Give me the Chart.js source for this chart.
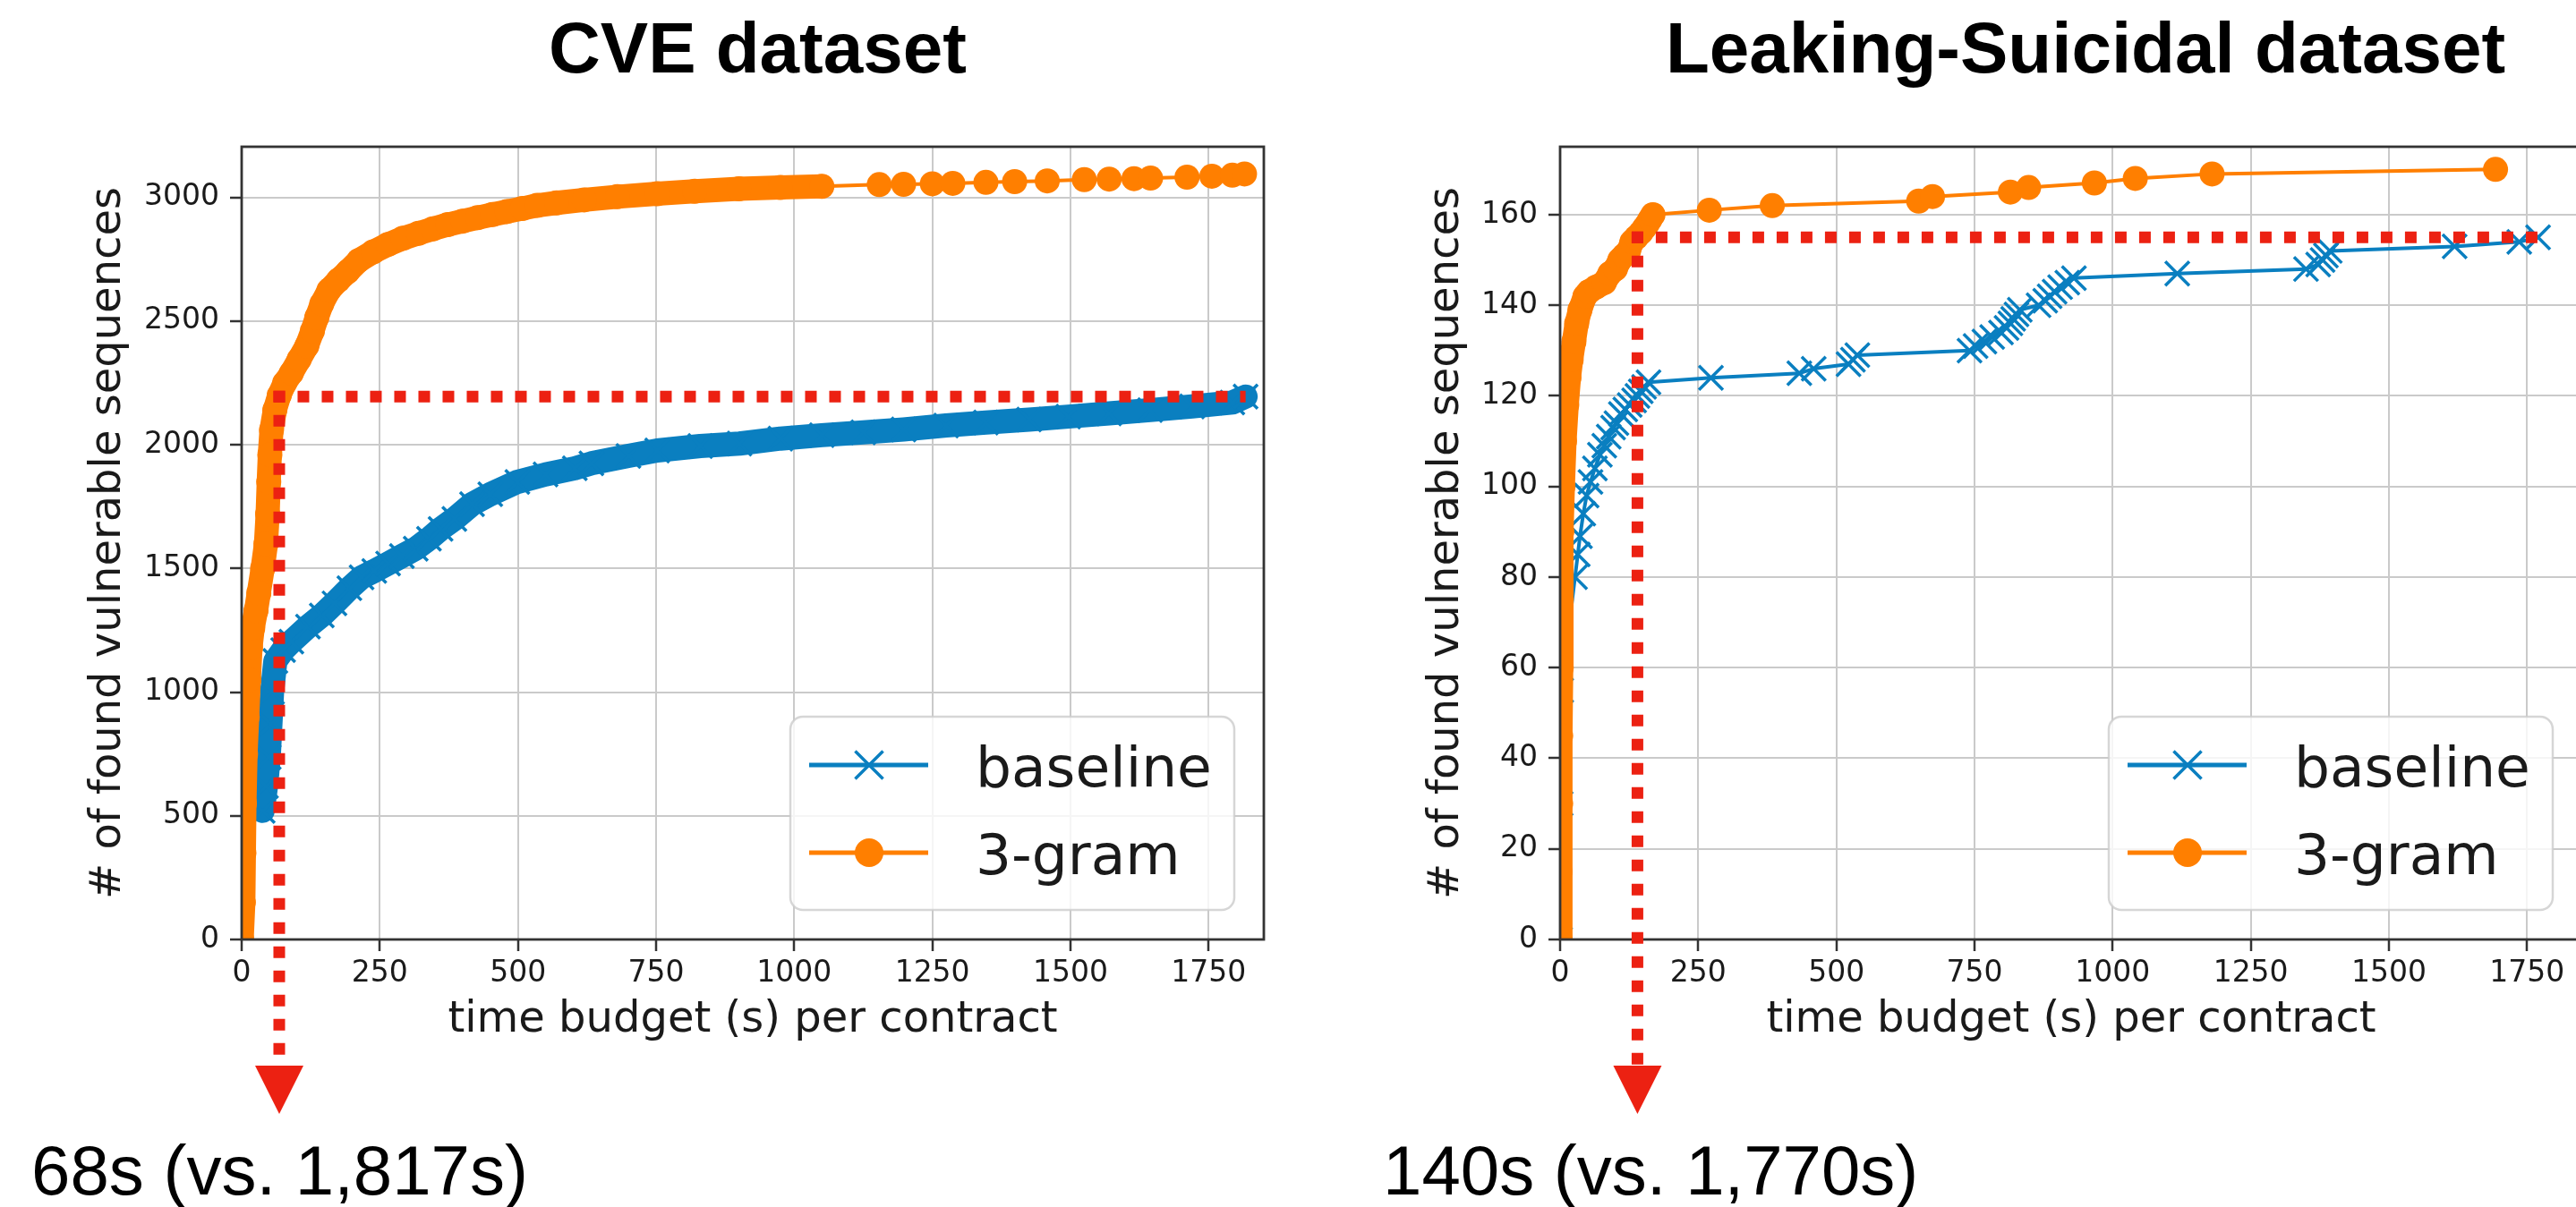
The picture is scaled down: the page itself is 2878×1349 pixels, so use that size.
<!DOCTYPE html>
<html>
<head>
<meta charset="utf-8">
<script src="https://cdn.jsdelivr.net/npm/chart.js@4.4.0/dist/chart.umd.min.js"></script>
<style>
  html, body { margin: 0; padding: 0; width: 2878px; height: 1349px; overflow: hidden; background: #fff; }
  canvas { position: absolute; top: 0; }
  #cveChart { left: 0; }
  #lsChart { left: 1440px; }
  .title { position: absolute; top: 14px; font: bold 80px "Liberation Sans", Arial, sans-serif; line-height: 1; color: #000; white-space: nowrap; }
  .note { position: absolute; top: 1269px; font: 78px "Liberation Sans", Arial, sans-serif; line-height: 1; color: #000; white-space: nowrap; }
</style>
</head>
<body>
<div class="title" style="left:613px">CVE dataset</div>
<div class="title" style="left:1861px">Leaking-Suicidal dataset</div>
<canvas id="cveChart" width="1440" height="1270"></canvas>
<canvas id="lsChart" width="1480" height="1270"></canvas>
<div class="note" style="left:35px">68s (vs. 1,817s)</div>
<div class="note" style="left:1545px">140s (vs. 1,770s)</div>
<script>
// ticks
const xTicks = [0, 250, 500, 750, 1000, 1250, 1500, 1750];
const cveYTicks = [0, 500, 1000, 1500, 2000, 2500, 3000];
const lsYTicks = [0, 20, 40, 60, 80, 100, 120, 140, 160];

// CVE dataset - baseline
const cveBaseTime = [38, 44, 49, 52, 55, 61, 75, 90, 120, 145,
  168, 195, 217, 240, 265, 290, 315, 339, 360, 385,
  417, 450, 499, 550, 603, 633, 700, 752, 830, 901,
  975, 1050, 1125, 1198, 1275, 1347, 1425, 1496, 1570, 1644,
  1720, 1793, 1817];
const cveBaseFound = [520, 620, 737, 870, 1001, 1126, 1170, 1204, 1265, 1310,
  1359, 1420, 1464, 1490, 1520, 1550, 1580, 1620, 1660, 1700,
  1760, 1800, 1850, 1880, 1905, 1925, 1955, 1977, 1995, 2005,
  2025, 2039, 2050, 2062, 2078, 2090, 2102, 2114, 2127, 2140,
  2155, 2171, 2195];

// CVE dataset - 3-gram
const cveGramTime = [0, 3, 4, 5, 7, 10, 13, 16, 20, 26,
  31, 38, 44, 47, 49, 51, 54, 60, 68, 78,
  90, 104, 118, 128, 136, 145, 158, 175, 192, 212,
  238, 265, 292, 320, 346, 373, 400, 427, 454, 480,
  508, 535, 570, 620, 680, 752, 820, 900, 975, 1050,
  1154, 1198, 1250, 1287, 1347, 1399, 1458, 1525, 1570, 1615,
  1645, 1711, 1756, 1793, 1815];
const cveGramFound = [0, 150, 350, 550, 750, 900, 1050, 1180, 1260, 1330,
  1400, 1500, 1600, 1720, 1850, 1960, 2060, 2140, 2200, 2250,
  2290, 2345, 2400, 2460, 2515, 2570, 2625, 2665, 2700, 2745,
  2780, 2810, 2835, 2855, 2873, 2890, 2904, 2918, 2931, 2943,
  2955, 2968, 2978, 2990, 3003, 3015, 3025, 3035, 3040, 3045,
  3052, 3053, 3055, 3057, 3061, 3064, 3067, 3072, 3074, 3076,
  3078, 3082, 3086, 3090, 3095];

// Leaking-Suicidal dataset - baseline
const lsBaseTime = [0, 1, 2, 27, 32,
  36, 42, 48, 55, 63, 72, 80, 88, 96, 102,
  110, 118, 126, 134, 140, 146, 152, 160, 273, 433,
  459, 522, 530, 538, 741, 752, 768, 782, 798, 808,
  815, 820, 826, 832, 866, 878, 886, 895, 905, 918,
  930, 1117, 1350, 1372, 1380, 1386, 1393, 1619, 1736, 1770];
const lsBaseFound = [0, 30, 55, 80, 85,
  89, 94, 98, 101, 104, 107, 109, 111, 113, 114,
  116, 117, 118, 119, 120, 121, 122, 123, 124, 125,
  126, 127, 128, 129, 130, 131, 132, 133, 134, 135,
  136, 137, 138, 139, 140, 141, 142, 143, 144, 145,
  146, 147, 148, 149, 150, 151, 152, 153, 154, 155];

// Leaking-Suicidal dataset - 3-gram
const lsGramTime = [0, 0, 1, 1, 2, 2, 3, 5, 8, 12,
  16, 20, 25, 30, 36, 45, 52, 65, 80, 90,
  100, 108, 116, 124, 130, 138, 146, 152, 158, 163,
  168, 270, 384, 649, 674, 815, 848, 967, 1041, 1180,
  1693];
const lsGramFound = [0, 15, 30, 45, 60, 75, 90, 100, 110, 118,
  124, 128, 132, 136, 139, 142, 143, 144, 145, 147,
  148, 150, 151, 152, 154, 155, 156, 157, 158, 159,
  160, 161, 162, 163, 164, 165, 166, 167, 168, 169,
  170];

// red guide: time where 3-gram reaches baseline's final count
const cveGuide = { time: 68, count: 2195, end: 1817 };
const lsGuide = { time: 140, count: 155, end: 1770 };

const FONT = 'DejaVu Sans';
const TEXT = '#1a1a1a';
const BLUE = '#0a7fc0';
const ORANGE = '#ff7f00';
const RED = '#ec2112';
const LINE_W = 4;
const BAND_W = 27;

const toPoints = (xs, ys) => xs.map((x, i) => ({ x, y: ys[i] }));

function drawMarker(ctx, style, color, r, w, x, y) {
  ctx.save();
  ctx.fillStyle = color;
  ctx.strokeStyle = color;
  ctx.lineWidth = w;
  ctx.beginPath();
  if (style === 'circle') {
    ctx.arc(x, y, r, 0, Math.PI * 2);
    ctx.fill();
  } else {
    const d = r * Math.SQRT1_2;
    ctx.moveTo(x - d, y - d); ctx.lineTo(x + d, y + d);
    ctx.moveTo(x - d, y + d); ctx.lineTo(x + d, y - d);
    ctx.stroke();
  }
  ctx.restore();
}

// matplotlib style frame around the axes
const frame = {
  id: 'frame',
  afterDatasetsDraw(chart) {
    const { ctx, chartArea: a } = chart;
    ctx.save();
    ctx.strokeStyle = '#333';
    ctx.lineWidth = 2.8;
    ctx.strokeRect(a.left, a.top, a.right - a.left, a.bottom - a.top);
    ctx.restore();
  }
};

const legendBox = {
  id: 'legendBox',
  afterDatasetsDraw(chart) {
    const { ctx, chartArea: a } = chart;
    const w = 496, h = 216, r = 14;
    const left = a.right - 33 - w, top = a.bottom - 33 - h;
    ctx.save();
    ctx.beginPath();
    ctx.moveTo(left + r, top);
    ctx.arcTo(left + w, top, left + w, top + h, r);
    ctx.arcTo(left + w, top + h, left, top + h, r);
    ctx.arcTo(left, top + h, left, top, r);
    ctx.arcTo(left, top, left + w, top, r);
    ctx.closePath();
    ctx.fillStyle = 'rgba(255,255,255,0.8)';
    ctx.fill();
    ctx.strokeStyle = 'rgba(204,204,204,0.8)';
    ctx.lineWidth = 2.5;
    ctx.stroke();
    chart.data.datasets.forEach((ds, i) => {
      const y = top + 54 + i * 98;
      ctx.strokeStyle = ds.borderColor;
      ctx.lineWidth = LINE_W + 1;
      ctx.beginPath();
      ctx.moveTo(left + 21, y);
      ctx.lineTo(left + 154, y);
      ctx.stroke();
      drawMarker(ctx, ds.pointStyle, ds.borderColor, ds.legendRadius, ds.pointBorderWidth || 0, left + 88, y);
      ctx.fillStyle = TEXT;
      ctx.font = '63px "' + FONT + '"';
      ctx.textBaseline = 'alphabetic';
      ctx.fillText(ds.label, left + 207, y + 24);
    });
    ctx.restore();
  }
};

const guide = {
  id: 'guide',
  afterDraw(chart, args, opts) {
    const { ctx, chartArea: a, scales: { x, y } } = chart;
    const gx = x.getPixelForValue(opts.time);
    const gy = y.getPixelForValue(opts.count);
    const ex = x.getPixelForValue(opts.end);
    const arrowTop = a.bottom + 141, arrowTip = a.bottom + 195;
    ctx.save();
    ctx.strokeStyle = RED;
    ctx.fillStyle = RED;
    ctx.lineWidth = 13;
    ctx.setLineDash([13, 14]);
    ctx.beginPath();
    ctx.moveTo(gx - 6.5, gy);
    ctx.lineTo(ex, gy);
    ctx.stroke();
    ctx.beginPath();
    ctx.moveTo(gx, gy - 6.5);
    ctx.lineTo(gx, arrowTop);
    ctx.stroke();
    ctx.setLineDash([]);
    ctx.beginPath();
    ctx.moveTo(gx - 27, arrowTop);
    ctx.lineTo(gx + 27, arrowTop);
    ctx.lineTo(gx, arrowTip);
    ctx.closePath();
    ctx.fill();
    ctx.restore();
  }
};

function makeChart(id, cfg) {
  const baseline = toPoints(cfg.baseTime, cfg.baseFound);
  const gram = toPoints(cfg.gramTime, cfg.gramFound);
  // dense runs of markers look like a solid band in the original
  const width = (pts, upTo) => c => (pts[c.p1DataIndex].x <= upTo ? BAND_W : LINE_W);
  const grid = { color: '#cacaca', lineWidth: 2, tickLength: 13, tickColor: '#333', tickWidth: 2.5 };

  return new Chart(document.getElementById(id), {
    type: 'line',
    data: {
      datasets: [
        {
          label: 'baseline',
          data: baseline,
          borderColor: BLUE,
          backgroundColor: BLUE,
          borderWidth: LINE_W,
          pointStyle: 'crossRot',
          pointRadius: 19,
          pointBorderWidth: 3.5,
          legendRadius: 22,
          order: 2,
          segment: { borderWidth: width(baseline, cfg.baseDense) }
        },
        {
          label: '3-gram',
          data: gram,
          borderColor: ORANGE,
          backgroundColor: ORANGE,
          borderWidth: LINE_W,
          pointStyle: 'circle',
          pointRadius: 14,
          pointBorderWidth: 0,
          legendRadius: 16,
          order: 1,
          segment: { borderWidth: width(gram, cfg.gramDense) }
        }
      ]
    },
    options: {
      responsive: false,
      animation: false,
      events: [],
      layout: { padding: { left: 0, right: cfg.padRight, top: 164, bottom: 80 } },
      elements: { line: { tension: 0, borderCapStyle: 'round', borderJoinStyle: 'round' } },
      plugins: {
        legend: { display: false },
        tooltip: { enabled: false },
        guide: cfg.guide
      },
      scales: {
        x: {
          type: 'linear',
          min: 0,
          max: 1850,
          afterBuildTicks: s => { s.ticks = xTicks.map(v => ({ value: v })); },
          afterFit: s => { s.height = 140; },
          ticks: { font: { family: FONT, size: 33 }, color: TEXT, padding: 6, maxRotation: 0, autoSkip: false, callback: v => String(v) },
          grid: grid,
          border: { display: false },
          title: { display: true, text: 'time budget (s) per contract', font: { family: FONT, size: 48 }, color: TEXT, padding: { top: 0, bottom: 21 } }
        },
        y: {
          type: 'linear',
          min: 0,
          max: cfg.yMax,
          afterBuildTicks: s => { s.ticks = cfg.yTicks.map(v => ({ value: v })); },
          afterFit: s => { s.width = cfg.yAxisWidth; },
          ticks: { font: { family: FONT, size: 33 }, color: TEXT, padding: 12, callback: v => String(v) },
          grid: grid,
          border: { display: false },
          title: { display: true, text: '# of found vulnerable sequences', font: { family: FONT, size: 48 }, color: TEXT, padding: { top: cfg.yTitlePad, bottom: 0 } }
        }
      }
    },
    plugins: [frame, legendBox, guide]
  });
}

makeChart('cveChart', {
  baseTime: cveBaseTime, baseFound: cveBaseFound, baseDense: 1850,
  gramTime: cveGramTime, gramFound: cveGramFound, gramDense: 1050,
  yTicks: cveYTicks, yMax: 3205, yAxisWidth: 270, yTitlePad: 93, padRight: 28,
  guide: cveGuide
});

makeChart('lsChart', {
  baseTime: lsBaseTime, baseFound: lsBaseFound, baseDense: -1,
  gramTime: lsGramTime, gramFound: lsGramFound, gramDense: 168,
  yTicks: lsYTicks, yMax: 175, yAxisWidth: 303, yTitlePad: 148, padRight: 35,
  guide: lsGuide
});
</script>
</body>
</html>
